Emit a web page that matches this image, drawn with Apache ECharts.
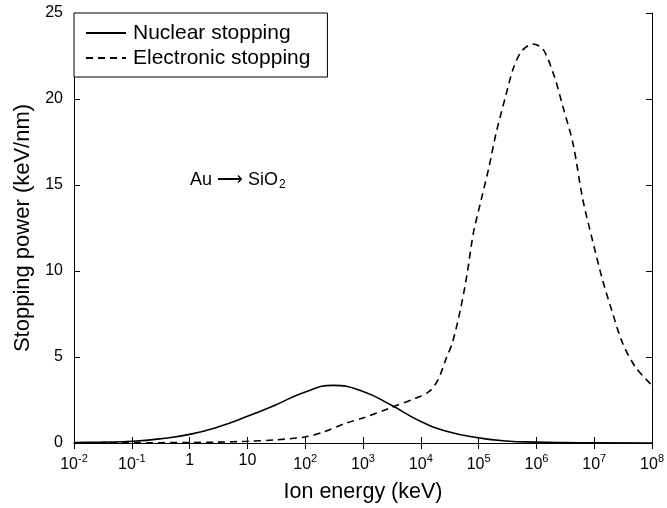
<!DOCTYPE html>
<html>
<head>
<meta charset="utf-8">
<script src="https://cdn.jsdelivr.net/npm/echarts@6/dist/echarts.min.js"></script>
<style>
  html, body { margin: 0; padding: 0; background: #fff; }
  #chart { width: 667px; height: 508px; }
</style>
</head>
<body>
<div id="chart"></div>
<script>
// energies in keV, stopping power in keV/nm
var nuclearEnergy = [0.01, 0.03, 0.1, 0.3, 1, 3, 10, 30, 100, 300, 1000, 3000, 10000, 30000, 100000, 300000, 1e6, 3e6, 1e7, 1e8];
var nuclearPower = [0.02, 0.05, 0.1, 0.24, 0.5, 0.92, 1.55, 2.2, 2.97, 3.35, 3.0, 2.22, 1.25, 0.65, 0.3, 0.12, 0.05, 0.02, 0.01, 0.003];

var electronicEnergy = [0.01, 0.1, 1, 3, 10, 30, 100, 200, 500, 1000, 3000, 8000, 14000, 20000, 28000, 35000, 48000, 63000, 81000, 110000, 150000, 200000, 290000, 400000, 560000, 870000, 1300000, 2000000, 2900000, 4300000, 6300000, 9300000, 1.4e7, 2.1e7, 3.1e7, 5.2e7, 1e8];
var electronicPower = [0.003, 0.01, 0.03, 0.05, 0.1, 0.18, 0.35, 0.62, 1.15, 1.45, 2.05, 2.6, 3.0, 3.7, 5.0, 5.8, 7.7, 9.8, 12.2, 14.1, 16.0, 18.0, 20.1, 21.8, 22.8, 23.2, 22.9, 21.4, 19.5, 17.4, 14.2, 11.8, 9.45, 7.5, 5.8, 4.4, 3.35];

var seriesNames = ["Nuclear stopping", "Electronic stopping"];
var xTitle = "Ion energy (keV)";
var yTitle = "Stopping power (keV/nm)";

function pairs(xs, ys) {
  return xs.map(function (x, i) { return [x, ys[i]]; });
}

var font = "Liberation Sans, Arial, Helvetica, sans-serif";

function logLabel(v) {
  var e = Math.round(Math.log10(v));
  if (e === 0) return "1";
  if (e === 1) return "10";
  return "10{sup|" + e + "}";
}

var chart = echarts.init(document.getElementById("chart"));

var tickStyle = { inside: true, length: 6, lineStyle: { color: "#000" } };

var option = {
  animation: false,
  backgroundColor: "#fff",
  textStyle: { fontFamily: font, color: "#000" },
  grid: { left: 74, right: 11, top: 13, bottom: 65 },
  legend: {
    data: seriesNames,
    orient: "vertical",
    left: 74,
    top: 13,
    padding: [8, 17, 7, 11],
    itemGap: 1,
    itemWidth: 40,
    itemHeight: 14,
    backgroundColor: "#fff",
    borderColor: "#000",
    borderWidth: 1,
    borderRadius: 0,
    itemStyle: { opacity: 0 },
    textStyle: { fontFamily: font, fontSize: 21, lineHeight: 24, color: "#000", padding: [0, 0, 0, 2] }
  },
  xAxis: [
    {
      type: "log",
      logBase: 10,
      min: 0.01,
      max: 1e8,
      interval: 1,
      splitNumber: 10,
      name: xTitle,
      nameLocation: "middle",
      nameGap: 38,
      nameTextStyle: { fontFamily: font, fontSize: 21.5, color: "#000" },
      axisLine: { lineStyle: { color: "#000", width: 1 } },
      axisTick: tickStyle,
      minorTick: { show: false },
      splitLine: { show: false },
      axisLabel: {
        margin: 10,
        interval: 0,
        formatter: logLabel,
        color: "#000",
        fontFamily: font,
        fontSize: 16,
        rich: {
          sup: { fontSize: 11, verticalAlign: "top", lineHeight: 24, color: "#000", fontFamily: font }
        }
      }
    },
    {
      type: "log",
      logBase: 10,
      min: 0.01,
      max: 1e8,
      interval: 1,
      splitNumber: 10,
      position: "top",
      axisLine: { lineStyle: { color: "#000", width: 1 } },
      axisTick: tickStyle,
      axisLabel: { show: false },
      splitLine: { show: false }
    }
  ],
  yAxis: [
    {
      type: "value",
      min: 0,
      max: 25,
      interval: 5,
      name: yTitle,
      nameLocation: "middle",
      nameGap: 40,
      nameTextStyle: { fontFamily: font, fontSize: 22, color: "#000" },
      axisLine: { show: true, lineStyle: { color: "#000", width: 1 } },
      axisTick: Object.assign({ show: true }, tickStyle),
      splitLine: { show: false },
      axisLabel: { margin: 11, color: "#000", fontFamily: font, fontSize: 16 }
    },
    {
      type: "value",
      min: 0,
      max: 25,
      interval: 5,
      position: "right",
      axisLine: { show: true, lineStyle: { color: "#000", width: 1 } },
      axisTick: Object.assign({ show: true }, tickStyle),
      axisLabel: { show: false },
      splitLine: { show: false }
    }
  ],
  graphic: [
    {
      type: "text",
      left: 190,
      top: 171,
      style: {
        text: "Au \u27F6 SiO{sub|2}",
        fill: "#000",
        font: "18px " + font,
        rich: {
          sub: { fontSize: 12, verticalAlign: "bottom", padding: [9, 0, 0, 1], fill: "#000" }
        }
      }
    }
  ],
  series: [
    {
      name: seriesNames[0],
      type: "line",
      xAxisIndex: 0,
      yAxisIndex: 0,
      data: pairs(nuclearEnergy, nuclearPower),
      smooth: 0.5,
      showSymbol: false,
      symbol: "none",
      lineStyle: { color: "#000", width: 1.6, type: "solid" },
      itemStyle: { color: "#000" }
    },
    {
      name: seriesNames[1],
      type: "line",
      xAxisIndex: 0,
      yAxisIndex: 0,
      data: pairs(electronicEnergy, electronicPower),
      smooth: 0.3,
      showSymbol: false,
      symbol: "none",
      lineStyle: { color: "#000", width: 1.6, type: [7, 5] },
      itemStyle: { color: "#000" }
    }
  ]
};

chart.setOption(option);
</script>
</body>
</html>
